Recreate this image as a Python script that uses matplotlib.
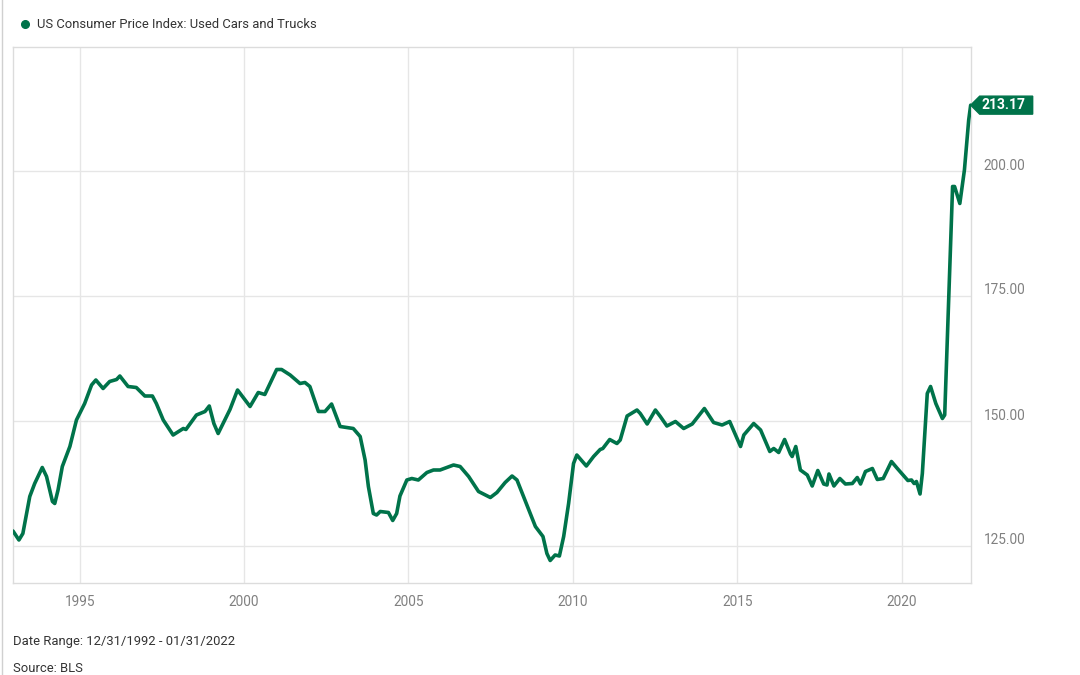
import matplotlib
matplotlib.use("Agg")
import matplotlib.pyplot as plt
import matplotlib.transforms as mtransforms
from matplotlib.patches import Polygon
from matplotlib.lines import Line2D

plt.rcParams['font.family'] = ['Roboto', 'DejaVu Sans']

# ---- data (decimal year, index value) ----
dates = [1992.97, 1993.15, 1993.27, 1993.48, 1993.63, 1993.86, 1993.99, 1994.17, 1994.24,
         1994.34, 1994.47, 1994.70, 1994.90, 1995.15, 1995.36, 1995.49, 1995.71, 1995.91,
         1996.12, 1996.22, 1996.47, 1996.72, 1996.98, 1997.21, 1997.33, 1997.54, 1997.84,
         1998.15, 1998.23, 1998.55, 1998.81, 1998.94, 1999.08, 1999.21, 1999.57, 1999.80,
         2000.18, 2000.43, 2000.63, 2000.99, 2001.14, 2001.40, 2001.70, 2001.85, 2002.00,
         2002.26, 2002.46, 2002.66, 2002.92, 2003.32, 2003.53, 2003.68, 2003.78, 2003.93,
         2004.03, 2004.14, 2004.39, 2004.52, 2004.64, 2004.74, 2004.95, 2005.10, 2005.30,
         2005.56, 2005.76, 2005.96, 2006.37, 2006.57, 2006.83, 2007.13, 2007.49, 2007.69,
         2007.94, 2008.15, 2008.30, 2008.60, 2008.86, 2009.09, 2009.21, 2009.31, 2009.46,
         2009.59, 2009.72, 2009.87, 2010.02, 2010.12, 2010.41, 2010.63, 2010.83, 2010.91,
         2011.12, 2011.34, 2011.44, 2011.65, 2011.95, 2012.05, 2012.26, 2012.51, 2012.66,
         2012.86, 2013.12, 2013.37, 2013.63, 2014.00, 2014.28, 2014.54, 2014.77, 2015.10,
         2015.20, 2015.50, 2015.71, 2015.99, 2016.11, 2016.26, 2016.44, 2016.62, 2016.67,
         2016.78, 2016.92, 2017.13, 2017.28, 2017.45, 2017.63, 2017.73, 2017.79, 2017.94,
         2018.12, 2018.29, 2018.50, 2018.65, 2018.75, 2018.90, 2019.11, 2019.26, 2019.44,
         2019.69, 2019.87, 2020.07, 2020.19, 2020.30, 2020.38, 2020.45, 2020.56, 2020.63,
         2020.78, 2020.88, 2021.04, 2021.24, 2021.31, 2021.55, 2021.61, 2021.77, 2021.91,
         2022.04, 2022.10]
values = [128.0, 126.2, 127.5, 134.9, 137.5, 140.7, 138.9, 133.9, 133.5,
          136.2, 140.9, 144.9, 150.2, 153.5, 157.2, 158.2, 156.5, 157.9,
          158.3, 159.0, 156.9, 156.7, 155.0, 155.0, 153.5, 150.2, 147.2,
          148.5, 148.3, 151.2, 151.9, 153.0, 149.5, 147.5, 152.3, 156.2,
          152.9, 155.7, 155.3, 160.3, 160.3, 159.2, 157.5, 157.7, 156.9,
          151.9, 151.9, 153.4, 148.9, 148.5, 146.9, 142.2, 136.9, 131.5,
          131.2, 131.9, 131.7, 130.1, 131.5, 135.0, 138.2, 138.5, 138.2,
          139.7, 140.2, 140.2, 141.2, 140.9, 138.9, 135.9, 134.7, 135.7,
          137.7, 139.0, 138.2, 133.2, 128.9, 126.9, 123.5, 122.1, 123.2,
          123.0, 126.9, 133.5, 141.5, 143.2, 141.0, 142.9, 144.3, 144.5,
          146.3, 145.5, 146.2, 151.0, 152.2, 151.5, 149.4, 152.2, 150.9,
          149.0, 149.9, 148.5, 149.4, 152.5, 149.7, 149.2, 149.9, 144.9,
          147.2, 149.5, 148.2, 143.9, 144.5, 143.7, 146.3, 143.4, 142.9,
          144.9, 140.2, 139.2, 137.0, 140.1, 137.4, 137.2, 139.4, 137.0,
          138.5, 137.4, 137.5, 138.7, 137.4, 139.9, 140.5, 138.3, 138.5,
          141.9, 140.5, 139.0, 138.1, 138.2, 137.5, 137.9, 135.4, 139.5,
          155.5, 156.9, 153.5, 150.5, 151.2, 196.9, 196.9, 193.5, 200.2,
          210.2, 213.17]

year_ticks = [1995, 2000, 2005, 2010, 2015, 2020]
value_ticks = [125, 150, 175, 200]
series_name = "US Consumer Price Index: Used Cars and Trucks"
date_range = "Date Range: 12/31/1992 - 01/31/2022"
source = "Source: BLS"

GREEN = '#00734a'
GRID = '#e6e6e6'
TICKC = '#808080'
TEXTC = '#333333'

fig = plt.figure(figsize=(10.8, 6.75), dpi=100)
ax = fig.add_axes([13/1080, 1 - 583/675, (971 - 13)/1080, (583 - 47)/675])

ax.plot(dates, values, color=GREEN, lw=2.6, solid_joinstyle='round',
        solid_capstyle='round', zorder=3)

ax.set_xlim(dates[0], dates[-1] + 0.01)
ax.set_ylim(117.6, 224.8)
ax.set_xticks(year_ticks)
ax.set_xticklabels([str(y) for y in year_ticks])
ax.set_yticks(value_ticks)
ax.set_yticklabels([f"{v:.2f}" for v in value_ticks])
ax.yaxis.tick_right()
ax.grid(True, color=GRID, lw=1.0, zorder=0)
ax.tick_params(axis='both', length=0, colors=TICKC, labelsize=9.8)
ax.tick_params(axis='x', pad=9)
ax.tick_params(axis='y', pad=9)
for sp in ax.spines.values():
    sp.set_color('#dcdcdc')
    sp.set_linewidth(1.0)

# shift y labels slightly above gridlines
off = mtransforms.ScaledTranslation(0, 7/100, fig.dpi_scale_trans)
for lab in ax.get_yticklabels():
    lab.set_transform(lab.get_transform() + off)

# last value tag
xl, yl = dates[-1], values[-1]
trans = fig.dpi_scale_trans + mtransforms.ScaledTranslation(xl, yl, ax.transData)
poly = Polygon([(0.0, 0.0), (0.09, 0.09), (0.62, 0.09), (0.62, -0.09), (0.09, -0.09)],
               closed=True, transform=trans, facecolor=GREEN, edgecolor=GREEN,
               clip_on=False, zorder=5)
fig.add_artist(poly)
fig.text(0.105, 0.0, f"{yl:.2f}", transform=trans, color='white', fontsize=10,
         fontweight='bold', ha='left', va='center', zorder=6)

# legend
fig.add_artist(Line2D([25/1080], [1 - 24/675], marker='o', color=GREEN, markersize=5.5,
                      transform=fig.transFigure))
fig.text(37/1080, 1 - 24/675, series_name, color=TEXTC, fontsize=9.4, ha='left', va='center')

# footer
fig.text(13/1080, 1 - 641/675, date_range, color=TEXTC, fontsize=9.4, ha='left', va='center')
fig.text(13/1080, 1 - 668/675, source, color=TEXTC, fontsize=9.4, ha='left', va='center')

# page left border
fig.add_artist(Line2D([2/1080, 2/1080], [0, 1], color='#d0d0d0', lw=1.0,
                      transform=fig.transFigure))

fig.savefig("out.png", dpi=100)
